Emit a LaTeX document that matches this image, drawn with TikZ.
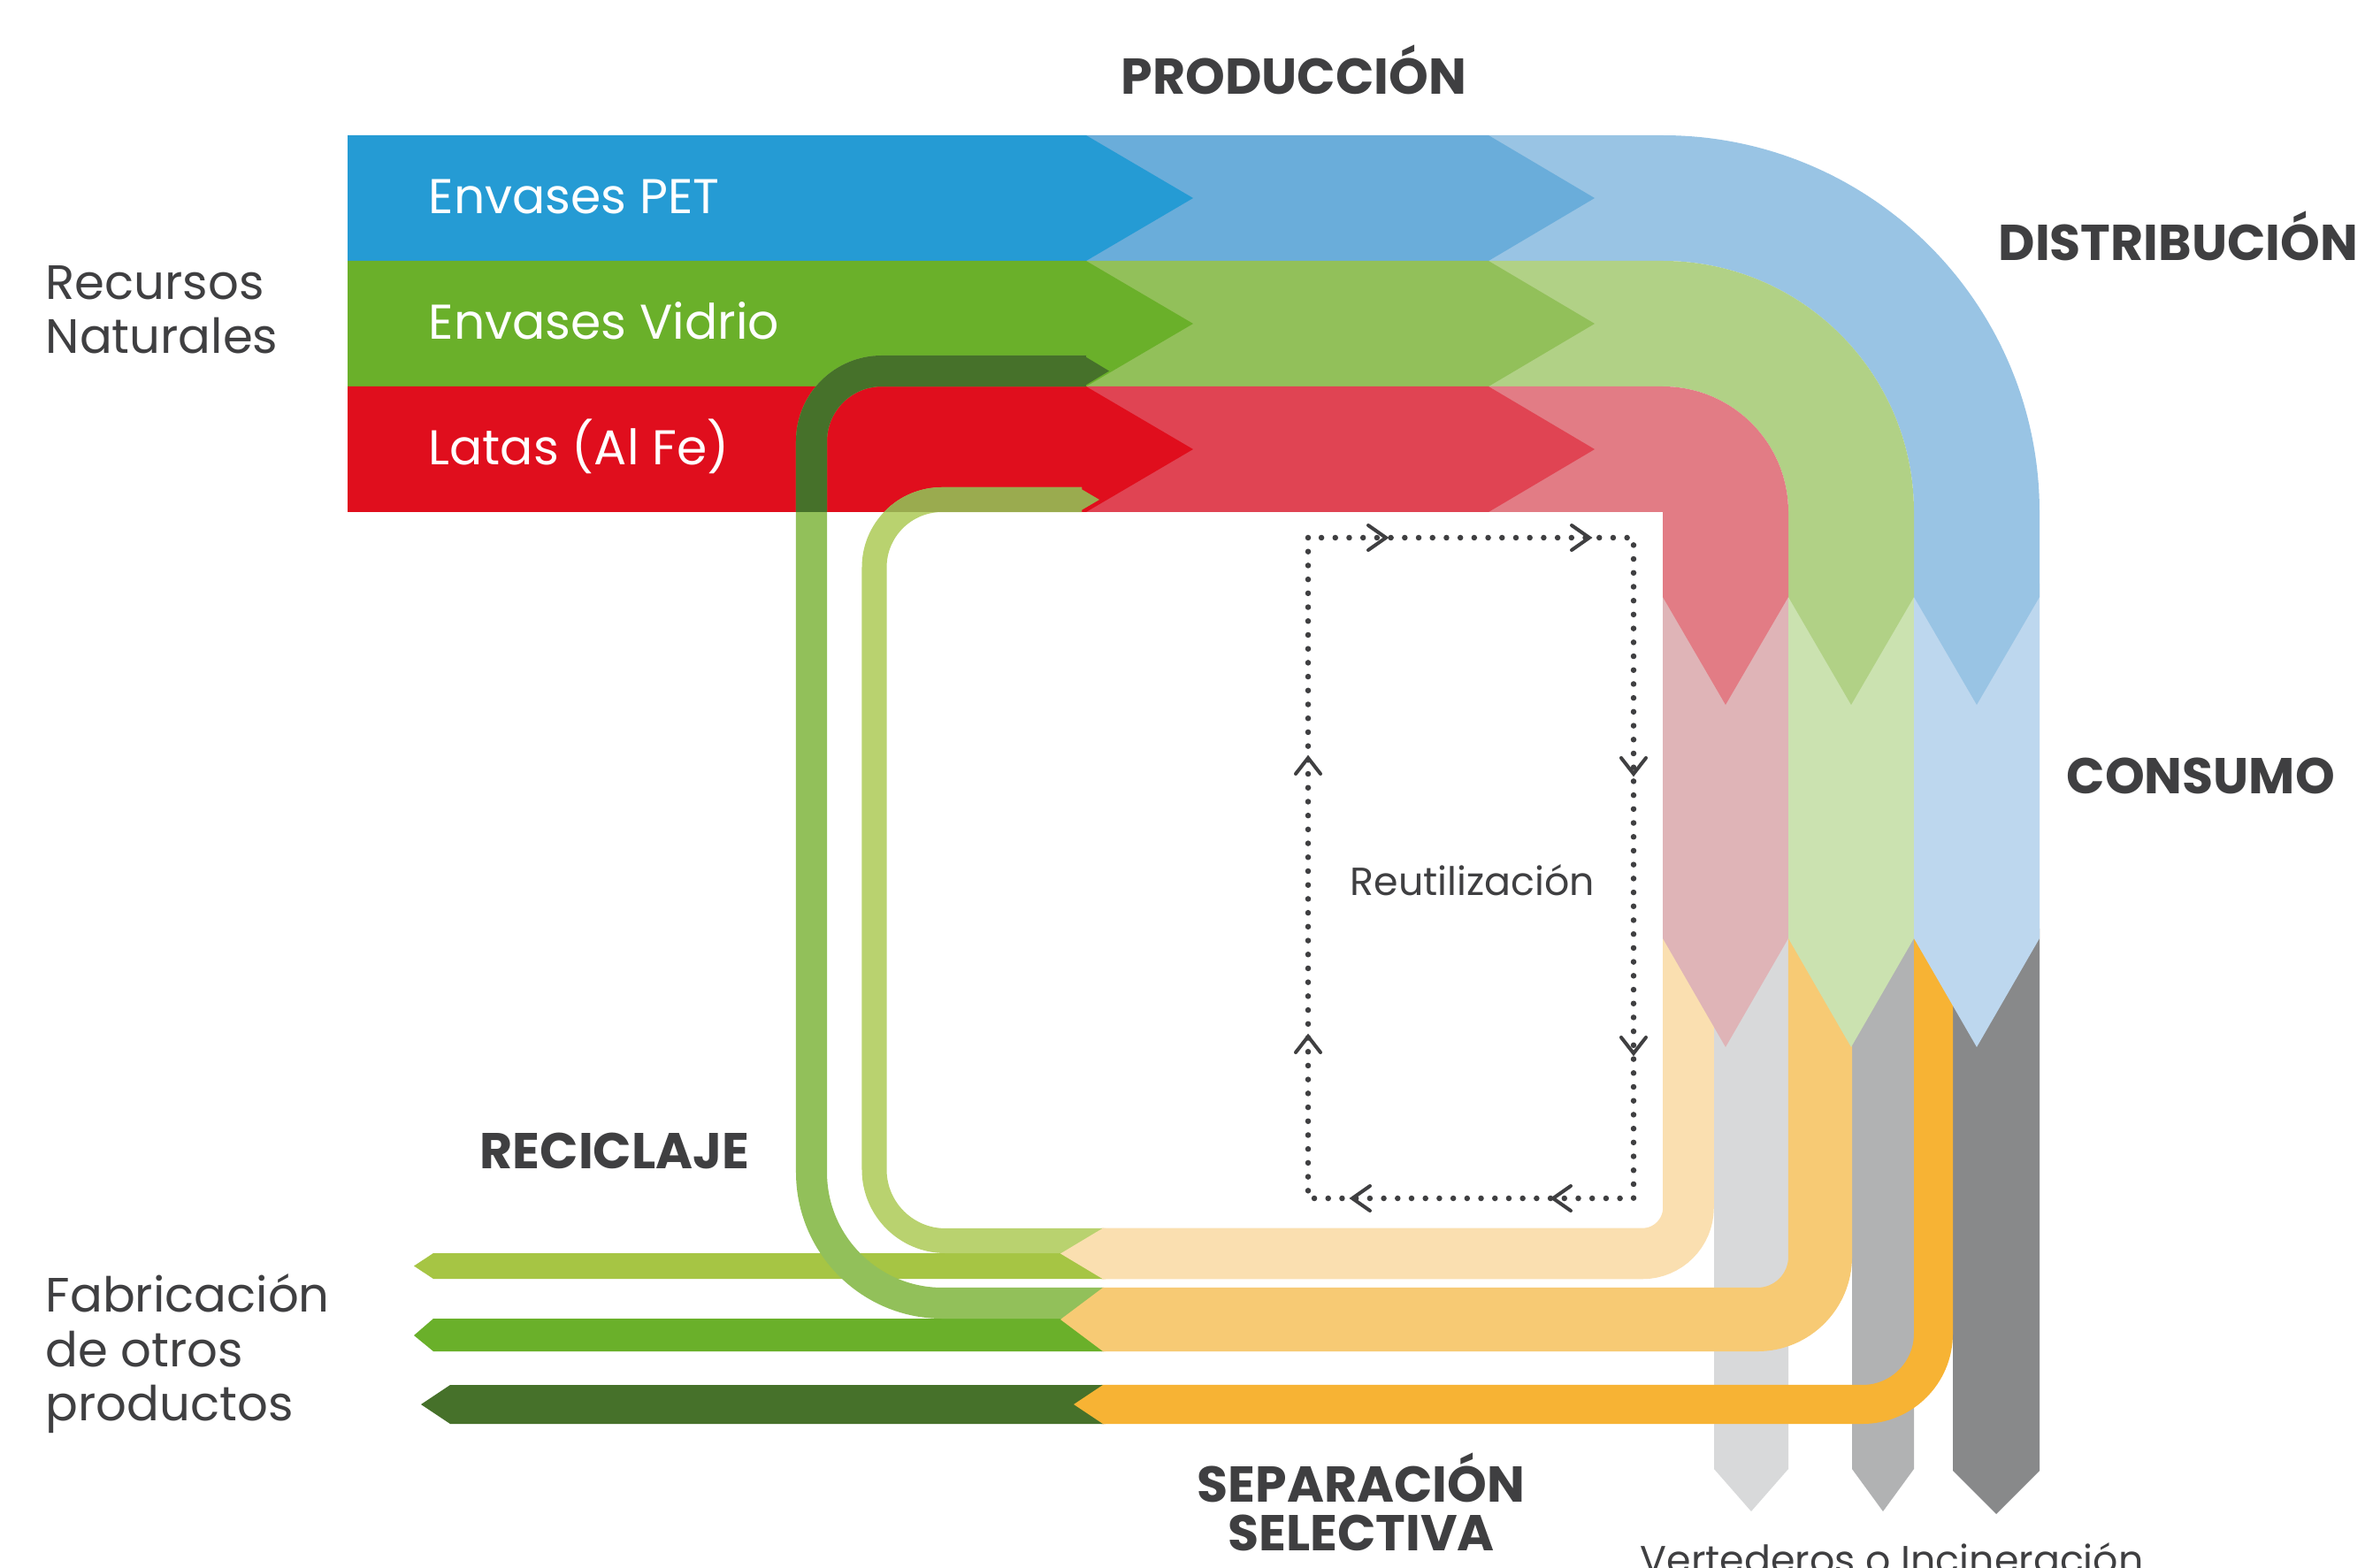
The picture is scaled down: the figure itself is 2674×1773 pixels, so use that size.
\documentclass[tikz,border=0pt]{standalone}
\usepackage{fontspec}
\setmainfont{Poppins}
\definecolor{petA}{HTML}{259BD4}
\definecolor{petB}{HTML}{6AADDA}
\definecolor{petC}{HTML}{99C4E4}
\definecolor{petD}{HTML}{BDD7EE}
\definecolor{vidA}{HTML}{6AB02A}
\definecolor{vidB}{HTML}{92C05A}
\definecolor{vidC}{HTML}{B1D186}
\definecolor{vidD}{HTML}{CBE2B0}
\definecolor{latA}{HTML}{E00E1D}
\definecolor{latB}{HTML}{E04453}
\definecolor{latC}{HTML}{E27C85}
\definecolor{latD}{HTML}{DFB4B7}
\definecolor{orA}{HTML}{FADFB0}
\definecolor{orB}{HTML}{F7CA74}
\definecolor{orC}{HTML}{F7B334}
\definecolor{grA}{HTML}{D8D9DA}
\definecolor{grB}{HTML}{B1B2B3}
\definecolor{grC}{HTML}{88898A}
\definecolor{gyel}{HTML}{A6C544}
\definecolor{gdark}{HTML}{46712A}
\definecolor{glight}{HTML}{B9D26F}
\definecolor{golive}{HTML}{9AAB4F}
\definecolor{txt}{HTML}{3F3F41}
\tikzset{
  hdr/.style={font=\fontsize{16.2}{16.2}\selectfont\bfseries, text=txt, inner sep=0pt, align=center},
  plain/.style={font=\fontsize{15.5}{17.4}\selectfont, text=txt, inner sep=0pt, align=left},
  band/.style={font=\fontsize{15.7}{17.4}\selectfont, text=white, inner sep=0pt},
  small/.style={font=\fontsize{12.6}{14}\selectfont, text=txt, inner sep=0pt},
  dotline/.style={draw=txt, line width=0.065cm, line cap=round, dash pattern=on 0pt off 0.157cm},
  chev/.style={draw=txt, line width=0.04cm, line cap=round, line join=miter},
}
\begin{document}
\begin{tikzpicture}[x=0.01cm,y=-0.01cm]
\useasboundingbox (0,0) rectangle (2674,1773);
\fill[white] (0,0) rectangle (2674,1773);

% ---- grey strips (landfill / incineration)
\fill[grA] (1938,1050) -- (2022,1050) -- (2022,1661) -- (1980,1709) -- (1938,1661) -- cycle;
\fill[grB] (2094,1050) -- (2164,1050) -- (2164,1661) -- (2129,1709) -- (2094,1661) -- cycle;
\fill[grC] (2208,1050) -- (2306,1050) -- (2306,1663) -- (2257,1712) -- (2208,1663) -- cycle;

% ---- orange separation bands
\draw[orA, line width=0.575cm, rounded corners=0.52cm] (1245,1417.5) -- (1909,1417.5) -- (1909,1050);
\draw[orB, line width=0.72cm, rounded corners=0.71cm] (1245,1492) -- (2058,1492) -- (2058,1050);
\draw[orC, line width=0.44cm, rounded corners=0.8cm] (1245,1588) -- (2186,1588) -- (2186,1050);

% ---- consumption columns
\fill[latD] (1880,660) -- (2022,660) -- (2022,1061) -- (1951,1184) -- (1880,1061) -- cycle;
\fill[vidD] (2022,660) -- (2164,660) -- (2164,1061) -- (2093,1184) -- (2022,1061) -- cycle;
\fill[petD] (2164,660) -- (2306,660) -- (2306,1061) -- (2235,1184) -- (2164,1061) -- cycle;

% ---- distribution (curved)
\fill[petC] (1683,153) -- (1880,153) arc[start angle=270,end angle=360,radius=426] -- (2306,675) -- (2235,797) -- (2164,675) -- (2164,579) arc[start angle=0,end angle=-90,radius=284] -- (1683,295) -- cycle;
\fill[vidC] (1683,295) -- (1880,295) arc[start angle=270,end angle=360,radius=284] -- (2164,675) -- (2093,797) -- (2022,675) -- (2022,579) arc[start angle=0,end angle=-90,radius=142] -- (1683,437) -- cycle;
\fill[latC] (1683,437) -- (1880,437) arc[start angle=270,end angle=360,radius=142] -- (2022,675) -- (1951,797) -- (1880,675) -- (1880,579) -- (1683,579) -- cycle;

% ---- production (second segment)
\fill[petB] (1228,153) -- (1683,153) -- (1803,224) -- (1683,295) -- (1228,295) -- cycle;
\fill[vidB] (1228,295) -- (1683,295) -- (1803,366) -- (1683,437) -- (1228,437) -- cycle;
\fill[latB] (1228,437) -- (1683,437) -- (1803,508) -- (1683,579) -- (1228,579) -- cycle;

% ---- natural resources (first segment)
\fill[petA] (393,153) -- (1228,153) -- (1349,224) -- (1228,295) -- (393,295) -- cycle;
\fill[vidA] (393,295) -- (1228,295) -- (1349,366) -- (1228,437) -- (393,437) -- cycle;
\fill[latA] (393,437) -- (1228,437) -- (1349,508) -- (1228,579) -- (393,579) -- cycle;

% ---- recycled products arrows
\fill[gyel] (468,1431.5) -- (490,1417) -- (1248,1417) -- (1248,1446) -- (490,1446) -- cycle;
\fill[vidA] (468,1510) -- (490,1491) -- (1248,1491) -- (1248,1528) -- (490,1528) -- cycle;
\fill[gdark] (476,1588) -- (509,1566) -- (1248,1566) -- (1248,1610) -- (509,1610) -- cycle;

% ---- recycling loops
\draw[vidB, line width=0.35cm] (1228,419.5) -- (997,419.5) arc[start angle=270,end angle=180,radius=79.5] -- (917.5,1325.5) arc[start angle=180,end angle=90,radius=148] -- (1248,1473.5);
\draw[glight, line width=0.28cm] (1223,565) -- (1065,565) arc[start angle=270,end angle=180,radius=76.5] -- (988.5,1322.5) arc[start angle=180,end angle=90,radius=80.5] -- (1248,1403);
\begin{scope}
\clip (393,295) rectangle (1880,579);
\draw[gdark, line width=0.35cm] (1228,419.5) -- (997,419.5) arc[start angle=270,end angle=180,radius=79.5] -- (917.5,700);
\draw[golive, line width=0.28cm] (1223,565) -- (1065,565) arc[start angle=270,end angle=180,radius=76.5] -- (988.5,700);
\end{scope}
\fill[gdark] (1225,402) -- (1254,419.5) -- (1225,437) -- cycle;
\fill[golive] (1220,551.5) -- (1243,565) -- (1220,578.5) -- cycle;

% ---- orange arrow tips over the green ends
\fill[orA] (1199,1417.5) -- (1247,1388.75) -- (1250,1388.75) -- (1250,1446.25) -- (1247,1446.25) -- cycle;
\fill[orB] (1199,1492) -- (1247,1456) -- (1250,1456) -- (1250,1528) -- (1247,1528) -- cycle;
\fill[orC] (1214,1588) -- (1247,1566) -- (1250,1566) -- (1250,1610) -- (1247,1610) -- cycle;

% ---- reuse loop
\draw[dotline] (1479,608) rectangle (1847,1355);
\draw[chev] (1547,594) -- (1567,608) -- (1547,622);
\draw[chev] (1777,594) -- (1797,608) -- (1777,622);
\draw[chev] (1833,857) -- (1847,875) -- (1861,857);
\draw[chev] (1833,1173) -- (1847,1191) -- (1861,1173);
\draw[chev] (1549,1341) -- (1529,1355) -- (1549,1369);
\draw[chev] (1776,1341) -- (1756,1355) -- (1776,1369);
\draw[chev] (1465,875) -- (1479,857) -- (1493,875);
\draw[chev] (1465,1190) -- (1479,1172) -- (1493,1190);

% ---- texts
\node[band, anchor=base west] (pet) at (484,242) {Envases PET};
\node[band, anchor=base west] (vid) at (484,384) {Envases Vidrio};
\node[band, anchor=base west] (lat) at (484,526) {Latas (Al Fe)};
\node[plain, anchor=base west] (rec1) at (51,339) {Recursos};
\node[plain, anchor=base west] (rec2) at (51,400) {Naturales};
\node[plain, anchor=base west] (fab1) at (51,1483) {Fabricación};
\node[plain, anchor=base west] (fab2) at (51,1545) {de otros};
\node[plain, anchor=base west] (fab3) at (51,1606) {productos};
\node[hdr, anchor=base] (prod) at (1463,107) {PRODUCCIÓN};
\node[hdr, anchor=base west] (dist) at (2259,295) {DISTRIBUCIÓN};
\node[hdr, anchor=base west] (cons) at (2336,898) {CONSUMO};
\node[hdr, anchor=base west] (reci) at (542,1321) {RECICLAJE};
\node[hdr, anchor=base] (sep1) at (1539,1698) {SEPARACIÓN};
\node[hdr, anchor=base] (sep2) at (1539,1753) {SELECTIVA};
\node[small, anchor=base] (reut) at (1665,1013) {Reutilización};
\node[small, anchor=base west] (vert) at (1854,1779) {Vertederos o Incineración};
\end{tikzpicture}
\end{document}
